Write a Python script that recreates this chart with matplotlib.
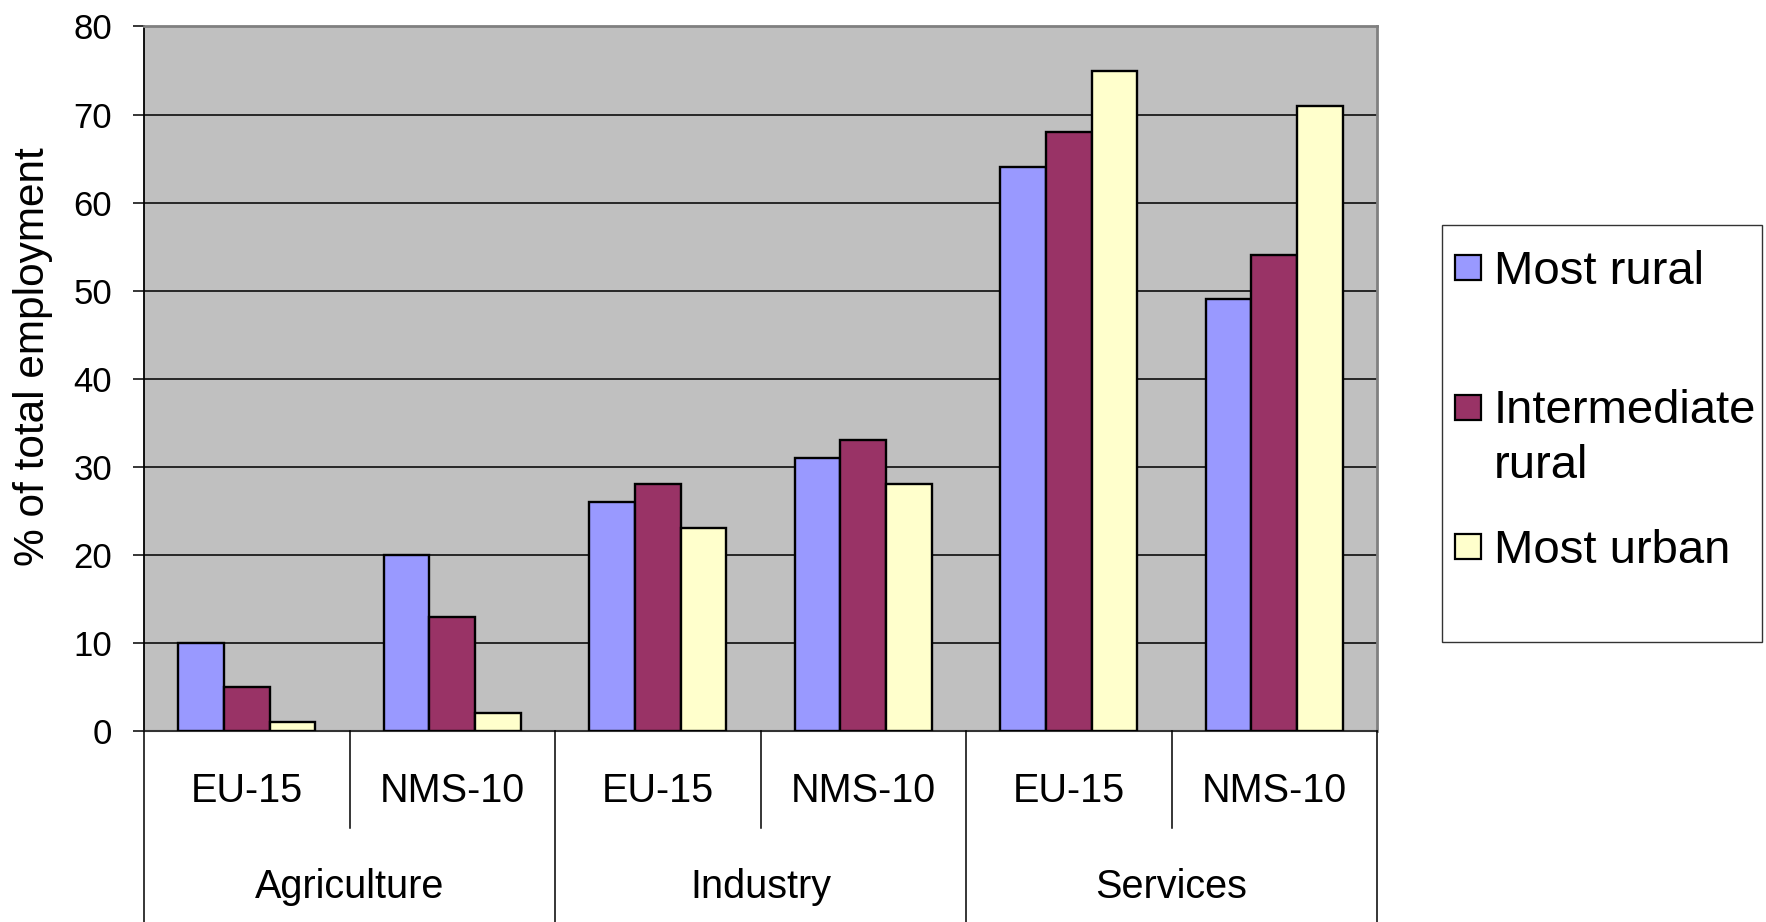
# Employment by sector and area type, EU-15 vs NMS-10
import numpy as np
import matplotlib
matplotlib.use('Agg')
import matplotlib.pyplot as plt
from matplotlib.transforms import blended_transform_factory
from matplotlib.lines import Line2D
from matplotlib.patches import Rectangle

sectors = ["Agriculture", "Industry", "Services"]
regions = ["EU-15", "NMS-10"]
series_names = ["Most rural", "Intermediate\nrural", "Most urban"]
most_rural = [10, 20, 26, 31, 64, 49]
intermediate_rural = [5, 13, 28, 33, 68, 54]
most_urban = [1, 2, 23, 28, 75, 71]
y_ticks = [0, 10, 20, 30, 40, 50, 60, 70, 80]

colors = ['#9999FF', '#993366', '#FFFFCC']
series = [most_rural, intermediate_rural, most_urban]

plt.rcParams['font.family'] = ['Liberation Sans', 'DejaVu Sans']

W, H = 1766, 922
fig = plt.figure(figsize=(W / 100, H / 100), dpi=100)
ax = fig.add_axes([144 / W, 1 - 731 / H, (1377 - 144) / W, (731 - 26.5) / H])
ax.set_facecolor('#C0C0C0')

n_cat = len(most_rural)
x = np.arange(n_cat) + 0.5
bw = 2 / 9
for k, (vals, c) in enumerate(zip(series, colors)):
    ax.bar(x + (k - 1) * bw, vals, width=bw, color=c, edgecolor='black',
           linewidth=1.7, zorder=3)

ax.set_xlim(0, n_cat)
ax.set_ylim(0, 80)
ax.set_yticks(y_ticks)
ax.set_yticklabels([str(t) for t in y_ticks], fontsize=25)
ax.tick_params(axis='y', length=8, width=1.1, color='black', pad=15)
ax.set_xticks([])
ax.grid(axis='y', color='#1a1a1a', linewidth=1.3, zorder=1)
ax.set_ylabel("% of total employment", fontsize=30.5)
ax.yaxis.set_label_coords(-(144 - 53) / (1377 - 144), (731 - 357) / (731 - 26.5))

for s in ['top', 'right']:
    ax.spines[s].set_color('#808080')
    ax.spines[s].set_linewidth(2)
ax.spines['left'].set_color('black')
ax.spines['left'].set_linewidth(1.3)
ax.spines['bottom'].set_color('#333333')
ax.spines['bottom'].set_linewidth(1.5)

# multi-level category axis
tr = blended_transform_factory(ax.transData, fig.transFigure)
def fy(px):
    return 1 - px / H

for i in range(n_cat):
    ax.text(x[i], fy(802), regions[i % 2], transform=tr, ha='center',
            va='baseline', fontsize=28.5)
for g, name in enumerate(sectors):
    ax.text(2 * g + 1, fy(898), name, transform=tr, ha='center',
            va='baseline', fontsize=28.5)
for b in range(n_cat + 1):
    bottom = 828 if b % 2 == 1 else H
    fig.add_artist(Line2D([b, b], [fy(731), fy(bottom)], transform=tr,
                          color='black', linewidth=1.1))

# legend box
fig.add_artist(Rectangle((1442 / W, fy(642)), (1762 - 1442) / W, (642 - 225) / H,
                         transform=fig.transFigure, facecolor='white',
                         edgecolor='#333333', linewidth=1.0))
patch_y = [255, 395, 534]
text_base = [284, 423, 563]
for k in range(3):
    fig.add_artist(Rectangle((1455 / W, fy(patch_y[k] + 25)), 26 / W, 25 / H,
                             transform=fig.transFigure, facecolor=colors[k],
                             edgecolor='black', linewidth=1.6))
    for j, line in enumerate(series_names[k].split('\n')):
        fig.text(1494 / W, fy(text_base[k] + 55 * j), line, ha='left',
                 va='baseline', fontsize=34)

fig.savefig('out.png', dpi=100)
